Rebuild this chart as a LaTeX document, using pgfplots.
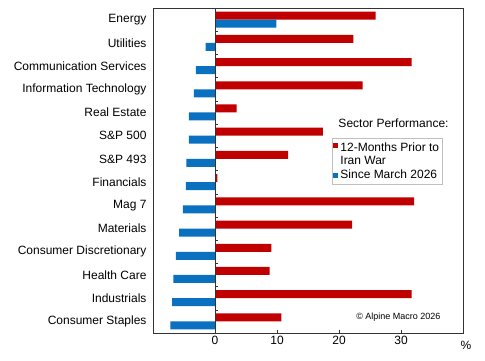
\documentclass[border=0pt]{standalone}
\usepackage{fontspec}
\setmainfont{Liberation Sans}
\usepackage{pgfplots}
\pgfplotsset{compat=1.18}
\definecolor{cred}{HTML}{C00000}
\definecolor{cblue}{HTML}{0A70C0}
\pgfplotsset{
  sqleg/.style={legend image code/.code={\path[##1, draw=none] (0bp,-2.5bp) rectangle (5bp,2.5bp);}},
  sqlegup/.style={legend image code/.code={\path[##1, draw=none] (0bp,6bp) rectangle (5bp,11bp);}},
}
\begin{document}
\begin{tikzpicture}[font=\fontsize{12bp}{14bp}\selectfont]
\begin{axis}[name=ax, at={(0,0)}, anchor=south west,
  scale only axis, width=310bp, height=325bp,
  xmin=-10, xmax=40, ymin=-0.5, ymax=13.5, y dir=reverse,
  xtick={0,10,20,30}, ytick={0,...,13},
  yticklabels={Energy, Utilities, Communication Services, Information Technology, Real Estate, S\&P 500, S\&P 493, Financials, Mag 7, Materials, Consumer Discretionary, Health Care, Industrials, Consumer Staples},
  xtick pos=bottom, tick align=inside, major tick length=3bp,
  ytick style={draw=none},
  axis line style={line width=0.8bp, black!80},
  xtick style={black!80},
  /pgf/number format/assume math mode=true,
  tick label style={font=\fontsize{12bp}{14bp}\selectfont},
  xbar, bar width=8bp,
  legend style={at={(axis description cs:0.5765,0.601)}, anchor=north west,
    draw=black!25, fill=white, font=\fontsize{12bp}{14bp}\selectfont,
    inner sep=1.5bp, row sep=0bp, /tikz/every even column/.style={column sep=1bp}},
  legend cell align=left,
]
\addplot[fill=cred, draw=none, bar shift=4bp, sqlegup] coordinates {
 (25.9,0) (22.3,1) (31.7,2) (23.8,3) (3.5,4) (17.4,5) (11.8,6) (0.4,7)
 (32.1,8) (22.1,9) (9.1,10) (8.8,11) (31.7,12) (10.7,13)};
\addlegendentry{\begin{tabular}[b]{@{}l@{}}12-Months Prior to\\[-0.5bp]Iran War\end{tabular}}
\addplot[fill=cblue, draw=none, bar shift=-4bp, sqleg] coordinates {
 (9.9,0) (-1.5,1) (-3.1,2) (-3.4,3) (-4.2,4) (-4.2,5) (-4.6,6) (-4.7,7)
 (-5.2,8) (-5.8,9) (-6.3,10) (-6.7,11) (-6.9,12) (-7.2,13)};
\addlegendentry{Since March 2026}
\draw[black!80, line width=0.8bp] (axis cs:0,-0.5) -- (axis cs:0,13.5);
\pgfplotsinvokeforeach{0.5,1.5,2.5,3.5,4.5,5.5,6.5,7.5,8.5,9.5,10.5,11.5,12.5}{
  \draw[black!80] (axis cs:0,#1) -- ([xshift=3bp]axis cs:0,#1);}
\node[anchor=west] at (axis description cs:0.587,0.646) {Sector Performance:};
\end{axis}
\node[anchor=east, font=\fontsize{9bp}{10bp}\selectfont, xshift=-19bp, yshift=16bp] at (ax.south east) {\textcopyright{} Alpine Macro 2026};
\node[xshift=3bp, yshift=-12bp] at (ax.south east) {\%};
\path ([xshift=-153bp,yshift=-27bp]ax.south west) rectangle ([xshift=22bp,yshift=8bp]ax.north east);
\end{tikzpicture}
\end{document}
